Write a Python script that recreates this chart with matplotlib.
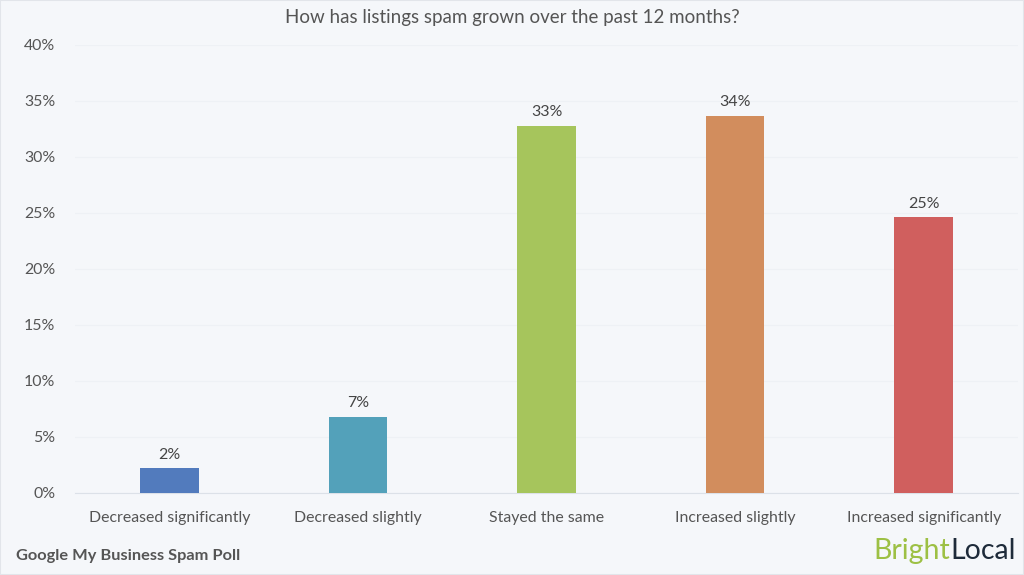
import matplotlib.pyplot as plt
from matplotlib.ticker import FuncFormatter

# data
categories = ["Decreased significantly", "Decreased slightly", "Stayed the same",
              "Increased slightly", "Increased significantly"]
values = [2.2, 6.8, 32.8, 33.7, 24.6]
labels = ["2%", "7%", "33%", "34%", "25%"]
colors = ["#527BBD", "#53A1BA", "#A6C55C", "#D28D5D", "#D05F5E"]

bg = "#F5F7FA"
txt = "#555555"
plt.rcParams["font.family"] = ["Lato", "DejaVu Sans"]

fig = plt.figure(figsize=(10.24, 5.75), dpi=100, facecolor=bg)
ax = fig.add_axes([75 / 1024, 1 - 493 / 575, 943 / 1024, 448 / 575])
ax.set_facecolor(bg)

x = list(range(len(categories)))
bars = ax.bar(x, values, width=0.31, color=colors, zorder=3)
for b, lab in zip(bars, labels):
    ax.text(b.get_x() + b.get_width() / 2, b.get_height() + 0.6, lab,
            ha="center", va="bottom", fontsize=11.5, color="#444444")

ax.set_xlim(-0.5, 4.5)
ax.set_ylim(0, 40)
ax.set_yticks(range(0, 41, 5))
ax.yaxis.set_major_formatter(FuncFormatter(lambda v, p: f"{v:.0f}%"))
ax.set_xticks(x)
ax.set_xticklabels(categories)
ax.tick_params(axis="both", length=0, labelsize=11.4, colors=txt)
ax.tick_params(axis="y", pad=14)
ax.tick_params(axis="x", pad=13)
ax.grid(axis="y", color="#EEF1F5", linewidth=0.8, zorder=0)
for s in ["top", "right", "left"]:
    ax.spines[s].set_visible(False)
ax.spines["bottom"].set_color("#DCE1E8")

fig.text(0.5, 1 - 17 / 575, "How has listings spam grown over the past 12 months?",
         ha="center", va="center", fontsize=13.5, color=txt)
fig.text(16 / 1024, 1 - 556 / 575, "Google My Business Spam Poll",
         ha="left", va="center", fontsize=11.8, fontweight="bold", color=txt)
t1 = fig.text(1016 / 1024, 1 - 551 / 575, "Local", ha="right", va="center",
              fontsize=20.5, color="#1E2B3A")
fig.canvas.draw()
bb = t1.get_window_extent()
fig.text(bb.x0 / 1024, 1 - 551 / 575, "Bright", ha="right", va="center",
         fontsize=20.5, color="#9DC044")

# frame
fig.patches.append(plt.Rectangle((0, 0), 1, 1, transform=fig.transFigure,
                                 fill=False, edgecolor="#E2E5EA", linewidth=1.5))

fig.savefig("out.png", dpi=100, facecolor=bg)
